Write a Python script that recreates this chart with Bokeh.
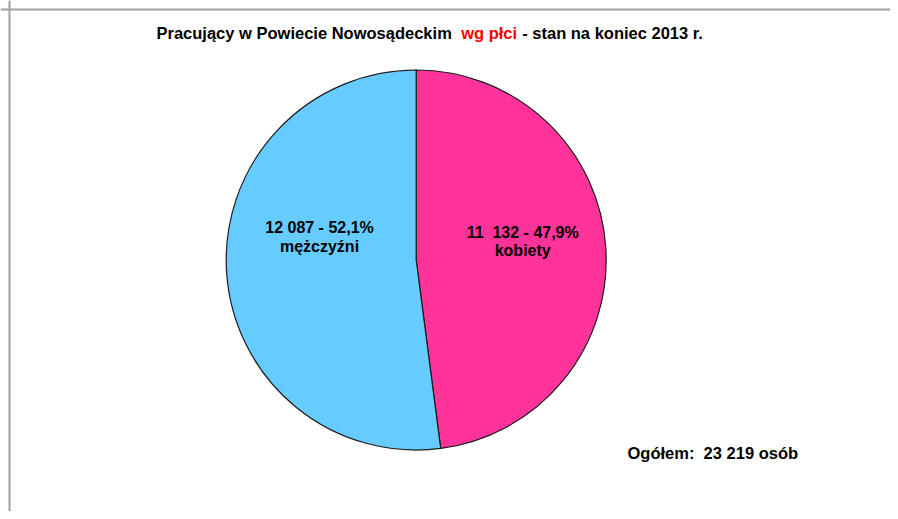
import math
from bokeh.plotting import figure
from bokeh.models import Range1d, Span, ColumnDataSource
from bokeh.core.properties import value
from bokeh.embed import file_html
from bokeh.resources import INLINE

# ---- data ----
categories = ["kobiety", "mężczyźni"]
counts = [11132, 12087]
count_labels = ["11\u00a0 132", "12 087"]
share_labels = ["47,9%", "52,1%"]
colors = ["#FF3399", "#66CCFF"]
title_parts = ["Pracujący w Powiecie Nowosądeckim", "wg płci", "- stan na koniec 2013 r."]
title_colors = ["#000000", "#FF0000", "#000000"]
total_prefix = "Ogółem:\u00a0 "
total_suffix = " osób"

W, H = 890, 511
FONT = "Liberation Sans"

def px(x):  # picture x -> data x
    return x

def py(y):  # picture y -> data y
    return H - y

total = sum(counts)
starts, ends = [], []
cum = 0.0
for c in counts:
    starts.append(math.pi / 2 - 2 * math.pi * cum / total)
    cum += c
    ends.append(math.pi / 2 - 2 * math.pi * cum / total)

cx, cy, r = px(415.7), py(259.5), 190

src = ColumnDataSource(dict(cat=categories, start=starts, end=ends, color=colors,
                            x=[cx] * len(counts), y=[cy] * len(counts)))

p = figure(width=W, height=H, x_range=Range1d(0, W), y_range=Range1d(0, H),
           output_backend="svg", toolbar_location=None,
           x_axis_location=None, y_axis_location=None, min_border=0)
p.grid.visible = False
p.outline_line_color = None
p.background_fill_color = "white"
p.border_fill_color = "white"

# frame lines (top and left)
p.add_layout(Span(location=py(9), dimension="width", line_color="#A0A0A0", line_width=2))
p.add_layout(Span(location=px(9), dimension="height", line_color="#A0A0A0", line_width=2))

p.wedge(x="x", y="y", radius=r, start_angle="start", end_angle="end", direction="clock",
        fill_color="color", line_color="#1a1a1a", line_width=1.2, source=src)

# slice labels (line 1: count - share, line 2: category)
offsets = [(106.5, 231.7, 250.0), (-96.7, 227.3, 246.0)]
for i in range(len(counts)):
    dx, b1, b2 = offsets[i]
    p.text(x=[cx + dx], y=[py(b1)], text=[f"{count_labels[i]} - {share_labels[i]}"],
           text_font=value(FONT), text_font_style="bold", text_font_size="16px",
           text_align="center", text_baseline="alphabetic", text_color="#000000")
    p.text(x=[cx + dx], y=[py(b2)], text=[categories[i]],
           text_font=value(FONT), text_font_style="bold", text_font_size="16px",
           text_align="center", text_baseline="alphabetic", text_color="#000000")

# title in three coloured parts
title_x = [156, 460.7, 521.7]
for t, c, x in zip(title_parts, title_colors, title_x):
    p.text(x=[px(x)], y=[py(32)], text=[t], text_font=value(FONT), text_font_style="bold",
           text_font_size="16.5px", text_align="left", text_baseline="alphabetic", text_color=c)

total_text = total_prefix + f"{total:,}".replace(",", " ") + total_suffix
p.text(x=[px(627)], y=[py(452.3)], text=[total_text], text_font=value(FONT),
       text_font_style="bold", text_font_size="16.5px", text_align="left",
       text_baseline="alphabetic", text_color="#000000")

open("out.html", "w").write(file_html(p, INLINE))
